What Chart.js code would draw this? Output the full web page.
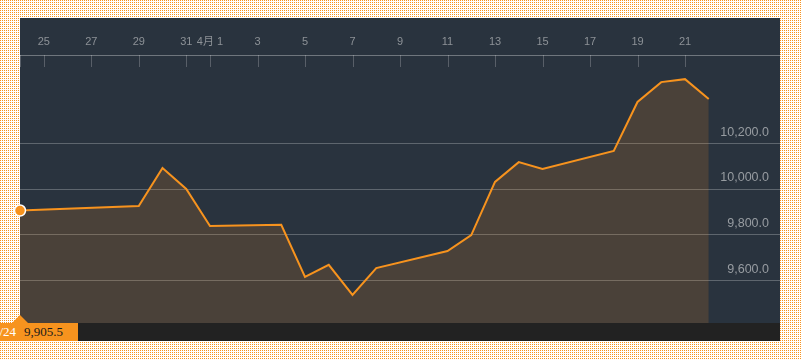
<!DOCTYPE html>
<html>
<head>
<meta charset="utf-8">
<script src="https://cdn.jsdelivr.net/npm/chart.js@4.4.1/dist/chart.umd.min.js"></script>
<style>
  html, body { margin: 0; padding: 0; background: #ffffff; }
  body { width: 801px; height: 360px; overflow: hidden; position: relative; }
  #wrap { position: absolute; left: 0; top: 0; width: 801px; height: 360px; }
  #bar { position: absolute; left: 20px; top: 323px; width: 760px; height: 18px; background: #222222; }
  #tag { position: absolute; left: -10px; top: 323px; width: 88px; height: 18px; background: #f7931e;
         font-family: "Liberation Serif", serif; font-size: 13px; line-height: 18px; white-space: nowrap; }
  #tag .d { position: absolute; right: 62px; top: 0; color: #ffffff; }
  #tag .v { position: absolute; left: 34px; top: 0; color: #1a1a1a; }
  #tri { position: absolute; left: 12px; top: 315px; width: 0; height: 0;
         border-left: 8px solid transparent; border-right: 8px solid transparent; border-bottom: 8px solid #f7931e; }
</style>
</head>
<body>
<div id="wrap"><canvas id="c" width="801" height="360"></canvas></div>
<div id="bar"></div>
<div id="tri"></div>
<div id="tag"><span class="d" id="tagDate"></span><span class="v" id="tagVal"></span></div>
<script>
// ---- data ----
const dates = ['03-24','03-29','03-30','03-31','04-01','04-04','04-05','04-06','04-07','04-08',
               '04-11','04-12','04-13','04-14','04-15','04-18','04-19','04-20','04-21','04-22'];
const values = [9905.5, 9925, 10092, 10000, 9838, 9843, 9614, 9667, 9535, 9653,
                9728, 9798, 10031, 10118, 10088, 10167, 10382, 10469, 10482, 10395];
const tickDates = ['03-25','03-27','03-29','03-31','04-01','04-03','04-05','04-07','04-09',
                   '04-11','04-13','04-15','04-17','04-19','04-21'];
const tickLabels = ['25','27','29','31','4月 1','3','5','7','9','11','13','15','17','19','21'];
const yTicks = [9600, 9800, 10000, 10200];
const startDate = '03-24';
const endDate = '04-25';

function dayOffset(md) {
  const [m, d] = md.split('-').map(Number);
  const [m0, d0] = startDate.split('-').map(Number);
  return Math.round((Date.UTC(2021, m - 1, d) - Date.UTC(2021, m0 - 1, d0)) / 86400000);
}
const points = dates.map((d, i) => ({ x: dayOffset(d), y: values[i] }));
const tickOffsets = tickDates.map(dayOffset);

function fmt(v) { return v.toLocaleString('en-US', { minimumFractionDigits: 1, maximumFractionDigits: 1 }); }

const [tm, td] = dates[0].split('-').map(Number);
document.getElementById('tagDate').textContent = tm + '/' + td;
document.getElementById('tagVal').textContent = fmt(values[0]);

function makeDots() {
  const p = document.createElement('canvas');
  p.width = 2; p.height = 2;
  const g = p.getContext('2d');
  g.fillStyle = '#ffffff'; g.fillRect(0, 0, 2, 2);
  g.fillStyle = '#f7931e'; g.fillRect(0, 0, 1, 1);
  return p;
}
const dotTile = makeDots();

const panelBg = {
  id: 'panelBg',
  beforeDraw(chart) {
    const ctx = chart.ctx;
    const a = chart.chartArea;
    ctx.save();
    ctx.fillStyle = ctx.createPattern(dotTile, 'repeat');
    ctx.fillRect(0, 0, chart.width, chart.height);
    ctx.fillStyle = '#29333e';
    ctx.fillRect(a.left, 18, a.right - a.left, a.bottom - 18);
    ctx.restore();
  },
  beforeDatasetsDraw(chart) {
    const ctx = chart.ctx;
    const xs = chart.scales.x;
    const top = chart.chartArea.top;
    ctx.save();
    ctx.strokeStyle = 'rgba(255,255,255,0.22)';
    ctx.lineWidth = 1;
    const marks = [0].concat(tickOffsets, [dayOffset(endDate)]);
    marks.forEach(v => {
      const x = Math.round(xs.getPixelForValue(v)) + 0.5;
      ctx.beginPath();
      ctx.moveTo(x, top);
      ctx.lineTo(x, top + 12);
      ctx.stroke();
    });
    ctx.restore();
  }
};

new Chart(document.getElementById('c'), {
  type: 'line',
  data: {
    datasets: [{
      data: points,
      borderColor: '#f7931e',
      borderWidth: 2,
      backgroundColor: 'rgba(247,144,30,0.16)',
      fill: 'start',
      tension: 0,
      clip: false,
      pointRadius: c => c.dataIndex === 0 ? 5.5 : 0,
      pointHoverRadius: 0,
      pointBackgroundColor: '#f7931e',
      pointBorderColor: '#ffffff',
      pointBorderWidth: 1.5
    }]
  },
  options: {
    responsive: false,
    animation: false,
    events: [],
    layout: { autoPadding: false, padding: { left: 20, right: 21, top: 18, bottom: 37 } },
    plugins: { legend: { display: false }, tooltip: { enabled: false } },
    scales: {
      x: {
        type: 'linear',
        position: 'top',
        min: 0,
        max: dayOffset(endDate),
        afterBuildTicks: s => { s.ticks = tickOffsets.map(v => ({ value: v })); },
        afterFit: s => { s.height = 37; },
        grid: { display: false, drawTicks: false },
        border: { display: true, color: 'rgba(255,255,255,0.33)', width: 1 },
        ticks: {
          autoSkip: false,
          maxRotation: 0,
          padding: 6,
          color: '#8d9297',
          font: { family: '"Liberation Sans", "Noto Sans CJK JP", sans-serif', size: 11 },
          callback: v => { const i = tickOffsets.indexOf(v); return i >= 0 ? tickLabels[i] : ''; }
        }
      },
      y: {
        position: 'right',
        min: 9412,
        max: 10588,
        afterBuildTicks: s => { s.ticks = yTicks.map(v => ({ value: v })); },
        afterFit: s => { s.width = 0; },
        grid: { color: 'rgba(255,255,255,0.25)', lineWidth: 1, drawTicks: false },
        border: { display: false },
        ticks: {
          mirror: true,
          padding: -11,
          labelOffset: -11,
          color: '#979ca1',
          font: { family: '"Liberation Sans", sans-serif', size: 12.5 },
          callback: v => fmt(v)
        }
      }
    }
  },
  plugins: [panelBg]
});
</script>
</body>
</html>
